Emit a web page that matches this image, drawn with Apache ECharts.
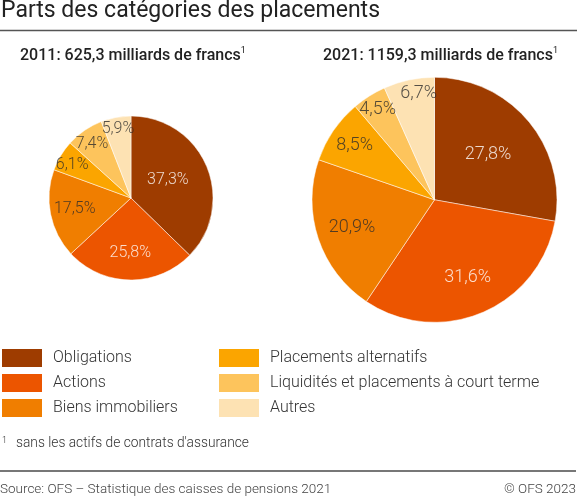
<!DOCTYPE html>
<html>
<head>
<meta charset="utf-8">
<script src="https://cdn.jsdelivr.net/npm/echarts@6/dist/echarts.min.js"></script>
<style>
html,body{margin:0;padding:0;background:#fff;}
#chart{width:577px;height:498px;}
</style>
</head>
<body>
<div id="chart"></div>
<script>
// ---- data ----
const categories = ['Obligations', 'Actions', 'Biens immobiliers', 'Placements alternatifs', 'Liquidités et placements à court terme', 'Autres'];
const shares2011 = [37.3, 25.8, 17.5, 6.1, 7.4, 5.9];
const shares2021 = [27.8, 31.6, 20.9, 8.5, 4.5, 6.7];
const title2011 = '2011: 625,3 milliards de francs';
const title2021 = '2021: 1159,3 milliards de francs';

// ---- style ----
const colors = ['#9e3c00', '#ec5500', '#f07e00', '#fba500', '#fdc45c', '#fde2b3'];
const labelColors = ['#ffffff', '#ffffff', '#2b2b2b', '#2b2b2b', '#2b2b2b', '#2b2b2b'];
// relative distance of each percentage label from the pie centre
const labelRadius2011 = [0.50, 0.67, 0.70, 0.82, 0.81, 0.86];
const labelRadius2021 = [0.57, 0.69, 0.71, 0.79, 0.87, 0.88];
// small angular nudges of the labels (in % of the full turn)
const labelShift2011 = [-0.9, 0, 0, -0.6, -0.4, 0];
const labelShift2021 = [0, 0, 0, 0, 0, 1.0];
const FONT = 'Roboto, "Noto Sans", sans-serif';

function fmt(v) { return v.toFixed(1).replace('.', ',') + '%'; }

function pieSeries(values, center, R) {
  return {
    type: 'pie', center: center, radius: R, startAngle: 90, clockwise: true,
    avoidLabelOverlap: false, silent: true,
    label: { show: false }, labelLine: { show: false },
    emphasis: { disabled: true },
    itemStyle: { borderColor: '#ffffff', borderWidth: 0.5 },
    data: values.map((v, i) => ({ value: v, name: categories[i], itemStyle: { color: colors[i] } }))
  };
}

// labels placed on a polar grid that shares the pie's centre, radius and angles
function labelSeries(values, polarIndex, ratios, shifts, fontSize) {
  const total = values.reduce((a, b) => a + b, 0);
  let cum = 0;
  const data = values.map((v, i) => {
    const mid = (cum + v / 2) / total * 100 + shifts[i];
    cum += v;
    return {
      value: [ratios[i], mid],
      label: { color: labelColors[i], formatter: () => fmt(v) }
    };
  });
  return {
    type: 'scatter', coordinateSystem: 'polar', polarIndex: polarIndex,
    symbolSize: 1, silent: true, z: 10,
    itemStyle: { color: 'rgba(0,0,0,0)' },
    label: { show: true, position: 'inside', fontSize: fontSize, fontWeight: 300, fontFamily: FONT, textBorderWidth: 0 },
    emphasis: { disabled: true },
    data: data
  };
}

const chart = echarts.init(document.getElementById('chart'), null, { renderer: 'canvas' });

const supRich = {
  a: { fontSize: 16, fontWeight: 500, color: '#222', fontFamily: FONT, lineHeight: 20 },
  s: { fontSize: 9, fontWeight: 400, color: '#222', fontFamily: FONT, verticalAlign: 'top', lineHeight: 12 }
};

const legendCommon = {
  orient: 'vertical', top: 349, padding: 0, itemWidth: 40, itemHeight: 18, itemGap: 7,
  icon: 'rect', selectedMode: false,
  itemStyle: { borderWidth: 0 },
  textStyle: { fontSize: 16, lineHeight: 18, fontWeight: 300, color: '#333', fontFamily: FONT, padding: [0, 0, 0, 6] }
};

const centers = [[131, 198], [434.5, 199.8]];
const radii = [82, 122.5];
const hiddenAxis = { show: false, axisLine: { show: false }, axisTick: { show: false }, axisLabel: { show: false }, splitLine: { show: false } };

chart.setOption({
  animation: false,
  title: [
    { text: 'Parts des catégories des placements', left: 1, top: 0, padding: 0,
      textStyle: { fontSize: 23, fontWeight: 400, color: '#222', fontFamily: FONT } },
    { text: '{a|' + title2011 + '}{s|1}', left: 20, top: 46, padding: 0, textStyle: { rich: supRich } },
    { text: '{a|' + title2021 + '}{s|1}', left: 323, top: 46, padding: 0, textStyle: { rich: supRich } },
    { text: '1', left: 2, top: 436, padding: 0,
      textStyle: { fontSize: 9, fontWeight: 300, color: '#333', fontFamily: FONT } },
    { text: 'sans les actifs de contrats d\'assurance', left: 16, top: 437, padding: 0,
      textStyle: { fontSize: 13.75, fontWeight: 300, color: '#333', fontFamily: FONT } },
    { text: 'Source: OFS – Statistique des caisses de pensions 2021', left: 0, top: 483, padding: 0,
      textStyle: { fontSize: 13.5, fontWeight: 300, color: '#444', fontFamily: FONT } },
    { text: '© OFS 2023', right: 1, top: 483, padding: 0,
      textStyle: { fontSize: 13.5, fontWeight: 300, color: '#444', fontFamily: FONT } }
  ],
  legend: [
    Object.assign({}, legendCommon, { left: 2, data: categories.slice(0, 3) }),
    Object.assign({}, legendCommon, { left: 219, data: categories.slice(3) })
  ],
  polar: [
    { center: centers[0], radius: radii[0] },
    { center: centers[1], radius: radii[1] }
  ],
  angleAxis: [
    Object.assign({ polarIndex: 0, type: 'value', min: 0, max: 100, startAngle: 90, clockwise: true }, hiddenAxis),
    Object.assign({ polarIndex: 1, type: 'value', min: 0, max: 100, startAngle: 90, clockwise: true }, hiddenAxis)
  ],
  radiusAxis: [
    Object.assign({ polarIndex: 0, type: 'value', min: 0, max: 1 }, hiddenAxis),
    Object.assign({ polarIndex: 1, type: 'value', min: 0, max: 1 }, hiddenAxis)
  ],
  graphic: [
    { type: 'line', shape: { x1: 0, y1: 30.5, x2: 577, y2: 30.5 }, style: { stroke: '#555', lineWidth: 1.5 } },
    { type: 'line', shape: { x1: 0, y1: 471, x2: 576, y2: 471 }, style: { stroke: '#777', lineWidth: 2 } }
  ],
  series: [
    pieSeries(shares2011, centers[0], radii[0]),
    pieSeries(shares2021, centers[1], radii[1]),
    labelSeries(shares2011, 0, labelRadius2011, labelShift2011, 16),
    labelSeries(shares2021, 1, labelRadius2021, labelShift2021, 18)
  ]
});
</script>
</body>
</html>
